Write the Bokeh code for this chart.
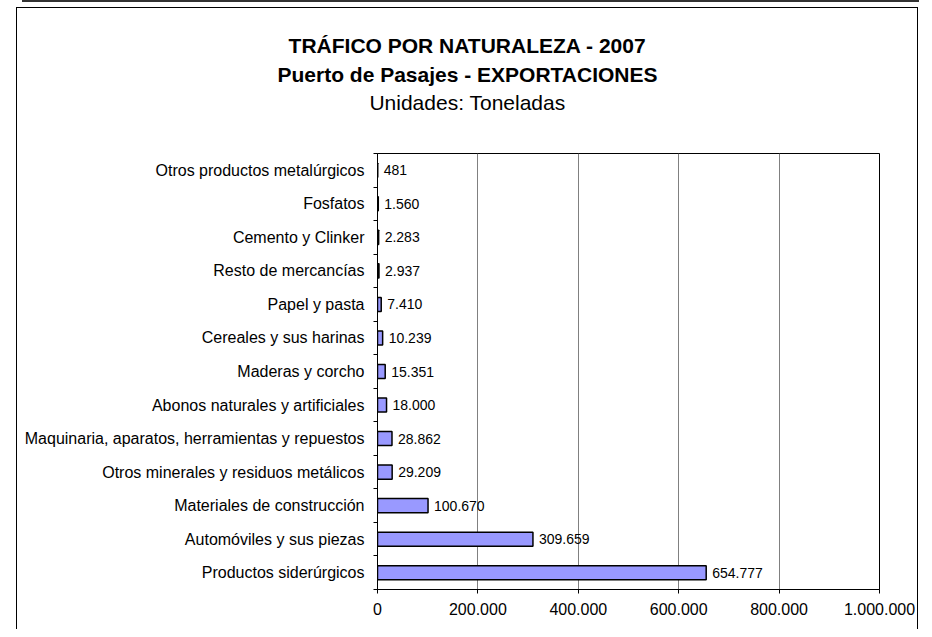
from bokeh.plotting import figure
from bokeh.models import FixedTicker, Label, Range1d, ColumnDataSource
from bokeh.layouts import column
from bokeh.core.properties import value
from bokeh.embed import file_html
from bokeh.resources import INLINE

# Data (bottom to top)
categories = [
    "Productos siderúrgicos",
    "Automóviles y sus piezas",
    "Materiales de construcción",
    "Otros minerales y residuos metálicos",
    "Maquinaria, aparatos, herramientas y repuestos",
    "Abonos naturales y artificiales",
    "Maderas y corcho",
    "Cereales y sus harinas",
    "Papel y pasta",
    "Resto de mercancías",
    "Cemento y Clinker",
    "Fosfatos",
    "Otros productos metalúrgicos",
]
values = [654777, 309659, 100670, 29209, 28862, 18000, 15351, 10239, 7410, 2937, 2283, 1560, 481]
x_ticks = [0, 200000, 400000, 600000, 800000, 1000000]
x_tick_labels = ["0", "200.000", "400.000", "600.000", "800.000", "1.000.000"]
title_lines = [
    "TRÁFICO POR NATURALEZA - 2007",
    "Puerto de Pasajes - EXPORTACIONES",
    "Unidades: Toneladas",
]

FONT = "Liberation Sans"
W = 900
TH = 120


def fmt(v):
    return f"{v:,}".replace(",", ".")


# ---- title strip ----
tf = figure(width=W, height=TH, output_backend="svg", toolbar_location=None,
            x_range=Range1d(0, W), y_range=Range1d(TH, 0),
            min_border=0, min_border_left=0, min_border_right=0,
            min_border_top=0, min_border_bottom=0)
tf.frame_align = False
tf.axis.visible = False
tf.grid.visible = False
tf.outline_line_color = None
title_y = [37, 66, 94]
for txt, ty, bold in zip(title_lines, title_y, [True, True, False]):
    tf.add_layout(Label(
        x=W / 2, y=ty, text=txt,
        text_align="center", text_baseline="middle",
        text_font=FONT, text_font_size="21px",
        text_font_style="bold" if bold else "normal", text_color="black",
    ))

# ---- main chart ----
pos = list(range(len(categories)))
src = ColumnDataSource(dict(y=pos, v=values, lab=[fmt(v) for v in values]))

p = figure(
    width=W, height=621 - TH, output_backend="svg", toolbar_location=None,
    x_range=Range1d(0, 1000000), y_range=Range1d(-0.5, len(categories) - 0.5),
    min_border_left=360, min_border_right=38, min_border_top=25, min_border_bottom=40,
)
p.frame_align = False
p.background_fill_color = "white"
p.border_fill_color = "white"
p.outline_line_color = "black"
p.outline_line_width = 1

p.hbar(y="y", left=0, right="v", height=0.42, source=src,
       fill_color="#9999FF", line_color="black", line_width=1.5)
p.text(x="v", y="y", text="lab", source=src, x_offset=6,
       text_baseline="middle", text_align="left",
       text_font=value(FONT), text_font_size="14px", text_color="black")

# Y axis: labels at centers, ticks at boundaries
p.yaxis.ticker = FixedTicker(ticks=pos, minor_ticks=[i - 0.5 for i in range(len(categories) + 1)])
p.yaxis.major_label_overrides = {i: c for i, c in zip(pos, categories)}
p.yaxis.major_tick_out = 0
p.yaxis.major_tick_in = 0
p.yaxis.minor_tick_out = 4
p.yaxis.minor_tick_in = 0
p.yaxis.minor_tick_line_color = "black"
p.yaxis.axis_line_color = "black"
p.yaxis.major_label_standoff = 9
p.yaxis.major_label_text_font = FONT
p.yaxis.major_label_text_font_size = "16px"
p.yaxis.major_label_text_color = "black"

# X axis
p.xaxis.ticker = FixedTicker(ticks=x_ticks)
p.xaxis.major_label_overrides = {t: l for t, l in zip(x_ticks, x_tick_labels)}
p.xaxis.major_tick_out = 4
p.xaxis.major_tick_in = 0
p.xaxis.major_tick_line_color = "black"
p.xaxis.minor_tick_line_color = None
p.xaxis.axis_line_color = "black"
p.xaxis.major_label_standoff = 9
p.xaxis.major_label_text_font = FONT
p.xaxis.major_label_text_font_size = "16px"
p.xaxis.major_label_text_color = "black"

p.xgrid.ticker = FixedTicker(ticks=x_ticks)
p.xgrid.grid_line_color = "#808080"
p.xgrid.grid_line_width = 1
p.ygrid.visible = False

inner = column(tf, p, spacing=0)
inner.styles = {
    "border-left": "1px solid black",
    "border-top": "1px solid black",
    "border-right": "1px solid black",
    "transform": "translate(-6px, 5px)",
}

outer = column(inner, spacing=0)
outer.styles = {
    "border-top": "2px solid #333333",
    "transform": "translate(22px, 0px)",
    "clip-path": "inset(0px 5px -40px -20px)",
}

open("out.html", "w").write(file_html(outer, INLINE))
